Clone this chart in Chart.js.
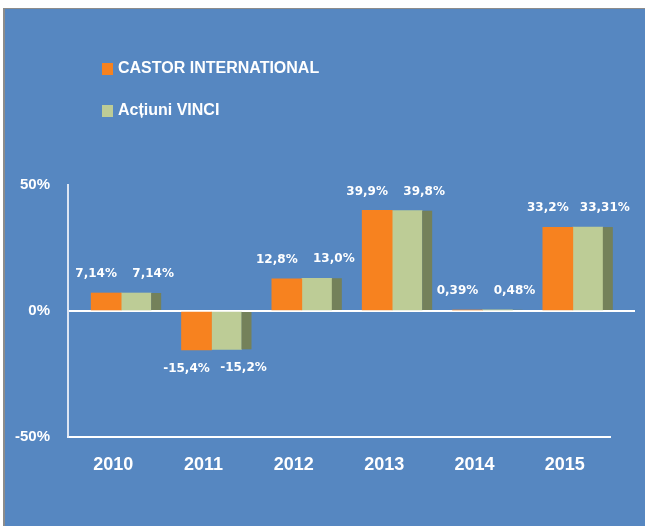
<!DOCTYPE html>
<html>
<head>
<meta charset="utf-8">
<script src="https://cdn.jsdelivr.net/npm/chart.js@4"></script>
<style>
  html, body { margin: 0; padding: 0; background: #fff; }
  #frame {
    position: absolute; left: 3px; top: 8px;
    width: 640px; height: 517px;
    background: #5687C1;
    border-left: 2px solid #8c8c8c;
    border-top: 1px solid #8c8c8c;
  }
  canvas { display: block; }
</style>
</head>
<body>
<div id="frame"><canvas id="chart" width="640" height="517"></canvas></div>
<script>
const years = ['2010', '2011', '2012', '2013', '2014', '2015'];
const castor = [7.14, -15.4, 12.8, 39.9, 0.39, 33.2];
const vinci = [7.14, -15.2, 13.0, 39.8, 0.48, 33.31];
const castorText = ['7,14%', '-15,4%', '12,8%', '39,9%', '0,39%', '33,2%'];
const vinciText = ['7,14%', '-15,2%', '13,0%', '39,8%', '0,48%', '33,31%'];
const yTicks = [-50, 0, 50];
const yTickLabels = ['-50%', '0%', '50%'];

const ORANGE = '#F7821F';
const GREEN = '#BDCC96';
const SIDE = '#74815A';
const SHIFT = 8;   // 3d front face sits a bit right of the category centre

// 3d side face, value labels, legend
const excelLook = {
    id: 'excelLook',
    beforeDatasetsDraw(chart) {
        chart.ctx.save();
        chart.ctx.translate(SHIFT, 0);
    },
    afterDatasetsDraw(chart) {
        const ctx = chart.ctx;
        ctx.fillStyle = SIDE;
        chart.getDatasetMeta(1).data.forEach(bar => {
            const top = Math.min(bar.y, bar.base);
            ctx.fillRect(bar.x + bar.width / 2, top, 10, Math.abs(bar.base - bar.y));
        });
        ctx.restore();

        const texts = [castorText, vinciText];
        const offs = [-10, 17];
        ctx.save();
        ctx.fillStyle = '#fff';
        ctx.font = 'bold 12px "DejaVu Sans"';
        ctx.textAlign = 'center';
        ctx.textBaseline = 'middle';
        chart.data.datasets.forEach((ds, d) => {
            chart.getDatasetMeta(d).data.forEach((bar, i) => {
                const y = ds.data[i] >= 0 ? bar.y - 19 : bar.y + 19;
                ctx.fillText(texts[d][i], bar.x + SHIFT + offs[d], y);
            });
        });
        ctx.restore();
    },
    afterDraw(chart) {
        const ctx = chart.ctx;
        const area = chart.chartArea;
        const y0 = chart.scales.y.getPixelForValue(0);
        ctx.save();
        ctx.strokeStyle = '#fff';
        ctx.lineWidth = 2;
        ctx.beginPath();
        ctx.moveTo(area.right, y0);
        ctx.lineTo(area.right + 25, y0);
        ctx.stroke();

        // legend, stacked vertically
        ctx.font = 'bold 16px "Liberation Sans"';
        ctx.textBaseline = 'middle';
        chart.data.datasets.forEach((ds, d) => {
            const cy = 60 + d * 42;
            ctx.fillStyle = ds.backgroundColor;
            ctx.fillRect(97, cy - 6, 11, 12);
            ctx.fillStyle = '#fff';
            ctx.fillText(ds.label, 113, cy);
        });
        ctx.restore();
    }
};

new Chart(document.getElementById('chart'), {
    type: 'bar',
    data: {
        labels: years,
        datasets: [
            { label: 'CASTOR INTERNATIONAL', data: castor, backgroundColor: ORANGE },
            { label: 'Acțiuni VINCI', data: vinci, backgroundColor: GREEN }
        ]
    },
    options: {
        responsive: false,
        animation: false,
        barThickness: 30,
        layout: { padding: { top: 176, right: 35, bottom: 44, left: 0 } },
        plugins: {
            legend: { display: false },
            tooltip: { enabled: false }
        },
        scales: {
            x: {
                grid: { display: false },
                border: { color: '#fff', width: 2 },
                ticks: {
                    color: '#fff',
                    padding: 9,
                    font: { family: 'Liberation Sans', size: 18, weight: 'bold' }
                },
                afterFit(scale) { scale.height = 45; }
            },
            y: {
                min: -50,
                max: 50,
                afterBuildTicks(scale) { scale.ticks = yTicks.map(v => ({ value: v })); },
                grid: {
                    drawTicks: false,
                    lineWidth: 2,
                    color: c => c.tick && c.tick.value === 0 ? '#fff' : 'rgba(0,0,0,0)'
                },
                border: { color: 'rgba(235,240,248,0.9)', width: 2 },
                ticks: {
                    color: '#fff',
                    padding: 18,
                    font: { family: 'Liberation Sans', size: 15, weight: 'bold' },
                    callback: (v, i) => yTickLabels[i]
                },
                afterFit(scale) { scale.width = 63; }
            }
        }
    },
    plugins: [excelLook]
});
</script>
</body>
</html>
